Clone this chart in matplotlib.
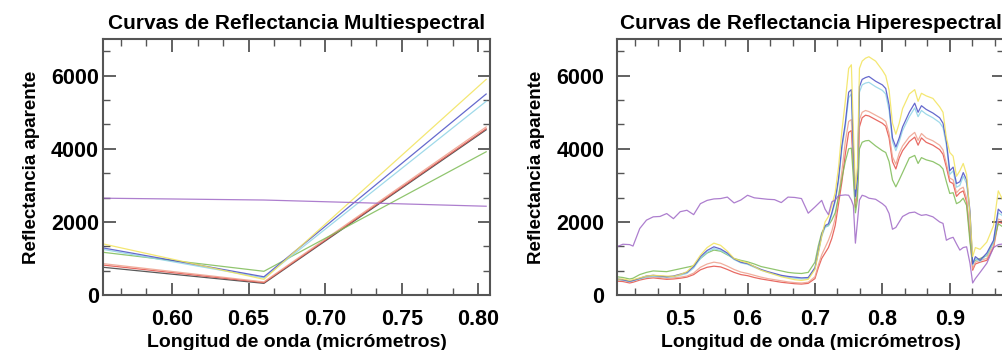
import numpy as np
import matplotlib
matplotlib.use("Agg")
import matplotlib.pyplot as plt
from matplotlib.ticker import AutoMinorLocator, FixedLocator

plt.rcParams["font.family"] = ["Liberation Sans", "DejaVu Sans"]
plt.rcParams["font.weight"] = "bold"

# ---- multispectral (3 bands) ----
ms_wl = [0.555, 0.66, 0.805]
ms_yellow = [1400, 430, 5900]
ms_blue = [1290, 500, 5500]
ms_cyan = [1250, 470, 5300]
ms_green = [1170, 650, 3920]
ms_pink = [860, 360, 4600]
ms_red = [820, 340, 4550]
ms_black = [760, 320, 4520]
ms_purple = [2650, 2600, 2430]

# ---- hyperspectral ----
hs_wl = [0.406, 0.415, 0.425, 0.430, 0.440, 0.450, 0.460, 0.470, 0.480, 0.490,
         0.500, 0.510, 0.520, 0.530, 0.540, 0.550, 0.560, 0.570, 0.580, 0.590,
         0.600, 0.610, 0.620, 0.630, 0.640, 0.650, 0.660, 0.670, 0.680, 0.690,
         0.700, 0.705, 0.710, 0.715, 0.720, 0.725, 0.730, 0.735, 0.740, 0.745,
         0.750, 0.754, 0.757, 0.760, 0.763, 0.766, 0.770, 0.775, 0.780, 0.790,
         0.800, 0.805, 0.810, 0.815, 0.820, 0.825, 0.830, 0.840, 0.848, 0.853,
         0.858, 0.865, 0.875, 0.885, 0.890, 0.895, 0.900, 0.905, 0.910, 0.915,
         0.920, 0.925, 0.930, 0.934, 0.938, 0.945, 0.955, 0.965, 0.972, 0.980]

hs_yellow = [430, 440, 400, 420, 470, 520, 540, 530, 520, 510,
             560, 640, 820, 1090, 1300, 1420, 1360, 1200, 1000, 930,
             880, 780, 680, 620, 560, 500, 460, 420, 400, 430,
             700, 1150, 1600, 2000, 2150, 2450, 2800, 3500, 4500, 5300,
             6200, 6300, 4500, 2900, 3500, 6200, 6400, 6480, 6520, 6400,
             6150, 6000, 5600, 4700, 4400, 4700, 5100, 5500, 5620, 5300,
             5520, 5450, 5380, 5150, 5000, 4300, 3900, 3800, 3250, 3400,
             3600, 3300, 2200, 1050, 1300, 1250, 1450, 1900, 2850, 2550]

hs_blue = [440, 420, 380, 400, 460, 520, 540, 520, 500, 520,
           570, 620, 780, 1050, 1220, 1320, 1260, 1150, 990, 900,
           860, 780, 700, 640, 590, 540, 510, 490, 470, 480,
           750, 1200, 1650, 1900, 1950, 2250, 2600, 3200, 4100, 4700,
           5550, 5620, 4000, 2700, 3200, 5700, 5900, 5950, 5980, 5850,
           5750, 5650, 5200, 4300, 4050, 4300, 4600, 5000, 5250, 5000,
           5180, 5080, 4980, 4850, 4700, 4200, 3400, 3500, 3050, 3100,
           3350, 3150, 2300, 850, 1050, 950, 1150, 1500, 2350, 2200]

hs_cyan = [420, 410, 370, 390, 440, 490, 510, 500, 490, 500,
           540, 590, 740, 1000, 1170, 1270, 1220, 1120, 970, 880,
           840, 760, 680, 620, 570, 520, 480, 460, 440, 450,
           720, 1150, 1600, 1850, 1900, 2200, 2550, 3100, 4000, 4600,
           5400, 5500, 3900, 2650, 3100, 5550, 5750, 5800, 5820, 5700,
           5600, 5500, 5050, 4200, 3950, 4200, 4500, 4880, 5120, 4880,
           5050, 4950, 4850, 4720, 4580, 4100, 3300, 3400, 2950, 3000,
           3250, 3050, 2200, 820, 1000, 920, 1100, 1450, 2250, 2150]

hs_green = [500, 480, 440, 460, 560, 620, 660, 650, 640, 680,
            720, 760, 800, 1000, 1150, 1230, 1200, 1100, 1000, 950,
            910, 850, 780, 740, 700, 660, 620, 600, 590, 620,
            900, 1350, 1700, 1870, 1900, 2050, 2250, 2700, 3200, 3650,
            4000, 4020, 3200, 2250, 2600, 4000, 4180, 4220, 4230, 4080,
            3950, 3900, 3650, 3150, 2960, 3150, 3350, 3750, 3820, 3600,
            3760, 3700, 3650, 3550, 3450, 3100, 2780, 2800, 2500, 2550,
            2650, 2450, 1450, 870, 950, 1000, 1080, 1450, 1950, 1850]

hs_pink = [410, 400, 360, 380, 440, 480, 500, 480, 460, 470,
           490, 520, 600, 760, 850, 900, 870, 790, 700, 630,
           590, 540, 490, 450, 420, 390, 360, 340, 330, 350,
           500, 820, 1100, 1300, 1500, 1750, 2100, 2700, 3400, 4200,
           4750, 4800, 3700, 2500, 3000, 4800, 5000, 5050, 5020, 4920,
           4820, 4750, 4420, 3780, 3580, 3880, 4080, 4330, 4450, 4230,
           4420, 4300, 4220, 4100, 3970, 3600, 3200, 3150, 2800, 2900,
           2950, 2650, 1700, 720, 900, 950, 1000, 1350, 2080, 2020]

hs_red = [380, 370, 330, 350, 410, 450, 470, 450, 430, 440,
          460, 490, 560, 690, 760, 790, 770, 700, 620, 560,
          530, 480, 440, 410, 380, 350, 330, 310, 300, 320,
          450, 750, 1000, 1150, 1300, 1550, 1900, 2500, 3100, 3850,
          4450, 4500, 3500, 2400, 2900, 4600, 4850, 4920, 4900, 4800,
          4700, 4620, 4300, 3650, 3450, 3750, 3950, 4200, 4320, 4100,
          4300, 4180, 4100, 3980, 3850, 3500, 3100, 3050, 2700, 2800,
          2850, 2550, 1600, 680, 850, 900, 950, 1300, 2000, 1950]

hs_purple = [1320, 1390, 1380, 1340, 1820, 2050, 2140, 2150, 2230, 2090,
             2280, 2320, 2200, 2500, 2590, 2630, 2640, 2680, 2520, 2600,
             2730, 2660, 2640, 2620, 2610, 2530, 2680, 2670, 2640, 2240,
             2410, 2500, 2590, 2350, 2200, 2550, 2600, 2720, 2730, 2740,
             2730, 2600, 2450, 1420, 2000, 2600, 2730, 2700, 2650, 2620,
             2500, 2420, 2230, 1800, 1850, 2000, 2150, 2250, 2270, 2220,
             2180, 2200, 2140, 2000, 1960, 1500, 1550, 1580, 1400, 1230,
             1300, 1320, 870, 330, 450, 620, 870, 1300, 1380, 1400]

COLORS = {
    "yellow": "#f2e35a", "blue": "#4a4fc4", "cyan": "#8ed3e6", "green": "#7dbb55",
    "pink": "#eea08c", "red": "#e45048", "black": "#3c3c3c", "purple": "#9f68c6",
}

fig = plt.figure(figsize=(10.02, 3.5), dpi=100)
axL = fig.add_axes([0.1028, 0.157, 0.3862, 0.731])
axR = fig.add_axes([0.6158, 0.157, 0.3862, 0.731])

# Left panel: multispectral
for key, vals in [("black", ms_black), ("red", ms_red), ("pink", ms_pink),
                  ("green", ms_green), ("cyan", ms_cyan), ("blue", ms_blue),
                  ("yellow", ms_yellow), ("purple", ms_purple)]:
    axL.plot(ms_wl, vals, color=COLORS[key], lw=0.9, alpha=0.85)
axL.set_xlim(0.555, 0.8075)
axL.xaxis.set_major_locator(FixedLocator([0.60, 0.65, 0.70, 0.75, 0.80]))
axL.set_xticklabels(["0.60", "0.65", "0.70", "0.75", "0.80"])
axL.set_title("Curvas de Reflectancia Multiespectral", fontsize=15,
              fontweight="bold", pad=7)

# Right panel: hyperspectral
for key, vals in [("red", hs_red), ("pink", hs_pink), ("green", hs_green),
                  ("cyan", hs_cyan), ("blue", hs_blue), ("yellow", hs_yellow),
                  ("purple", hs_purple)]:
    axR.plot(hs_wl, vals, color=COLORS[key], lw=0.9, alpha=0.85)
axR.set_xlim(0.4063, 0.9805)
axR.xaxis.set_major_locator(FixedLocator([0.5, 0.6, 0.7, 0.8, 0.9]))
axR.set_title("Curvas de Reflectancia Hiperespectral", fontsize=15,
              fontweight="bold", pad=7)

for ax, ypad in ((axL, 3), (axR, 9)):
    ax.set_ylim(0, 7000)
    ax.set_yticks([0, 2000, 4000, 6000])
    ax.xaxis.set_minor_locator(AutoMinorLocator(3))
    ax.yaxis.set_minor_locator(AutoMinorLocator(3))
    ax.tick_params(which="both", direction="in", top=True, right=True, color="#555555")
    ax.tick_params(which="major", length=9, width=1.3)
    ax.tick_params(which="minor", length=5, width=1.0)
    ax.tick_params(axis="x", which="major", labelsize=15.5, pad=10)
    ax.tick_params(axis="y", which="major", labelsize=15.5, pad=ypad)
    for lab in ax.get_xticklabels() + ax.get_yticklabels():
        lab.set_fontweight("bold")
    for sp in ax.spines.values():
        sp.set_color("#555555")
        sp.set_linewidth(1.5)
    ax.set_xlabel("Longitud de onda (micrómetros)", fontsize=14, fontweight="bold", labelpad=3)
    ax.set_ylabel("Reflectancia aparente", fontsize=13.5, fontweight="bold", labelpad=8)

fig.savefig("out.png", dpi=100)
